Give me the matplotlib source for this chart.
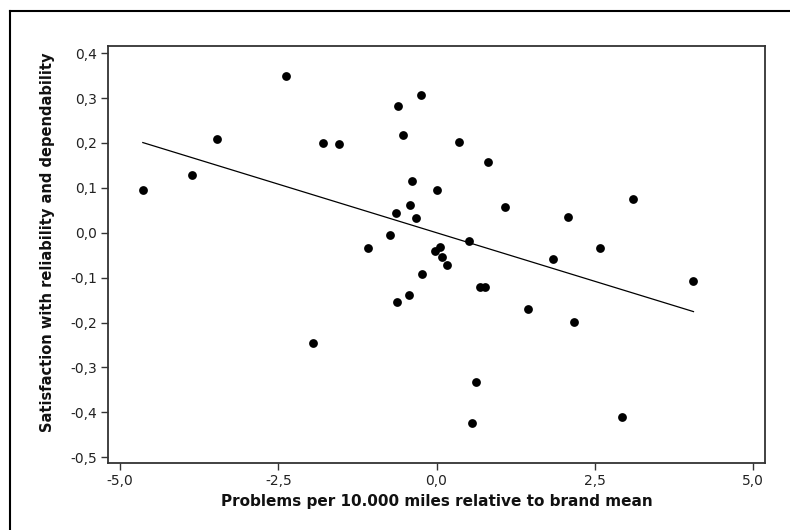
import numpy as np
import matplotlib
matplotlib.use("Agg")
import matplotlib.pyplot as plt
from matplotlib.ticker import FuncFormatter
from matplotlib.lines import Line2D

x_problems = [-4.64, -3.86, -3.47, -2.38, -1.95, -1.79, -1.54, -1.08, -0.73, -0.64,
              -0.62, -0.61, -0.53, -0.43, -0.42, -0.38, -0.33, -0.25, -0.23, 0.01,
              -0.02, 0.055, 0.08, 0.16, 0.36, 0.51, 0.56, 0.62, 0.68, 0.76,
              0.82, 1.08, 1.45, 1.84, 2.07, 2.18, 2.58, 2.93, 3.10, 4.06]
y_satisfaction = [0.095, 0.128, 0.208, 0.350, -0.246, 0.200, 0.197, -0.033, -0.006, 0.043,
                  -0.155, 0.283, 0.218, -0.139, 0.061, 0.116, 0.033, 0.307, -0.093, 0.095,
                  -0.040, -0.031, -0.054, -0.071, 0.202, -0.019, -0.423, -0.333, -0.120, -0.120,
                  0.157, 0.058, -0.170, -0.059, 0.036, -0.198, -0.034, -0.410, 0.076, -0.108]
x_ticks = [-5.0, -2.5, 0.0, 2.5, 5.0]
y_ticks = [0.4, 0.3, 0.2, 0.1, 0.0, -0.1, -0.2, -0.3, -0.4, -0.5]

x = np.array(x_problems)
y = np.array(y_satisfaction)
slope, intercept = np.polyfit(x, y, 1)

fig = plt.figure(figsize=(7.9, 5.3), dpi=100)
fig.patch.set_facecolor("white")

# outer frame (left and top edges visible)
fig.add_artist(Line2D([10/790, 10/790], [0, 1 - 11/530], transform=fig.transFigure,
                      color="black", lw=1.5))
fig.add_artist(Line2D([10/790, 1], [1 - 11/530, 1 - 11/530], transform=fig.transFigure,
                      color="black", lw=1.5))

ax = fig.add_axes([108/790, 1 - 463/530, (765 - 108)/790, (463 - 46)/530])
ax.scatter(x, y, s=40, color="black", zorder=3, linewidths=0)
xl = np.array([x.min(), x.max()])
ax.plot(xl, slope * xl + intercept, color="black", lw=0.9, zorder=2)

ax.set_xlim(-5.19, 5.19)
ax.set_ylim(-0.513, 0.416)
ax.set_xticks(x_ticks)
ax.set_yticks(y_ticks)
fmt = FuncFormatter(lambda v, p: f"{v:.1f}".replace(".", ",").replace("-0,0", "0,0"))
ax.xaxis.set_major_formatter(fmt)
ax.yaxis.set_major_formatter(fmt)
ax.tick_params(direction="out", length=5, width=1, labelsize=10, colors="#333333",
               labelcolor="#222222", pad=3)
for s in ax.spines.values():
    s.set_color("#333333")
    s.set_linewidth(1.3)

ax.set_xlabel("Problems per 10.000 miles relative to brand mean", fontsize=11,
              fontweight="bold", color="#111111", labelpad=4)
ax.set_ylabel("Satisfaction with reliability and dependability", fontsize=10.5,
              fontweight="bold", color="#111111")
ax.yaxis.set_label_coords(-0.08, 0.53)

fig.savefig("out.png", dpi=100)
